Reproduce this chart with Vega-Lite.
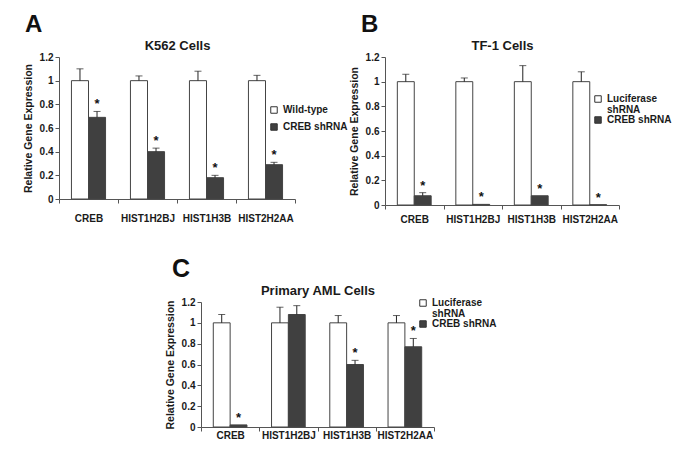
{
  "$schema": "https://vega.github.io/schema/vega-lite/v6.json",
  "autosize": {"type": "none"},
  "padding": {"left": 59, "top": 57, "right": 626, "bottom": 403},
  "datasets": {
    "d": [
      {"panel": "A", "gene": "CREB", "role": "ctrl", "group": "Wild-type", "value": 1.0, "hi": 1.10, "star": ""},
      {"panel": "A", "gene": "CREB", "role": "kd", "group": "CREB shRNA", "value": 0.69, "hi": 0.74, "star": "*"},
      {"panel": "A", "gene": "HIST1H2BJ", "role": "ctrl", "group": "Wild-type", "value": 1.0, "hi": 1.04, "star": ""},
      {"panel": "A", "gene": "HIST1H2BJ", "role": "kd", "group": "CREB shRNA", "value": 0.40, "hi": 0.43, "star": "*"},
      {"panel": "A", "gene": "HIST1H3B", "role": "ctrl", "group": "Wild-type", "value": 1.0, "hi": 1.08, "star": ""},
      {"panel": "A", "gene": "HIST1H3B", "role": "kd", "group": "CREB shRNA", "value": 0.18, "hi": 0.20, "star": "*"},
      {"panel": "A", "gene": "HIST2H2AA", "role": "ctrl", "group": "Wild-type", "value": 1.0, "hi": 1.045, "star": ""},
      {"panel": "A", "gene": "HIST2H2AA", "role": "kd", "group": "CREB shRNA", "value": 0.29, "hi": 0.31, "star": "*"},
      {"panel": "B", "gene": "CREB", "role": "ctrl", "group": "Luciferase shRNA", "value": 1.0, "hi": 1.06, "star": ""},
      {"panel": "B", "gene": "CREB", "role": "kd", "group": "CREB shRNA", "value": 0.075, "hi": 0.10, "star": "*"},
      {"panel": "B", "gene": "HIST1H2BJ", "role": "ctrl", "group": "Luciferase shRNA", "value": 1.0, "hi": 1.03, "star": ""},
      {"panel": "B", "gene": "HIST1H2BJ", "role": "kd", "group": "CREB shRNA", "value": 0.005, "hi": 0.005, "star": "*"},
      {"panel": "B", "gene": "HIST1H3B", "role": "ctrl", "group": "Luciferase shRNA", "value": 1.0, "hi": 1.13, "star": ""},
      {"panel": "B", "gene": "HIST1H3B", "role": "kd", "group": "CREB shRNA", "value": 0.075, "hi": 0.075, "star": "*"},
      {"panel": "B", "gene": "HIST2H2AA", "role": "ctrl", "group": "Luciferase shRNA", "value": 1.0, "hi": 1.08, "star": ""},
      {"panel": "B", "gene": "HIST2H2AA", "role": "kd", "group": "CREB shRNA", "value": 0.002, "hi": 0.002, "star": "*"},
      {"panel": "C", "gene": "CREB", "role": "ctrl", "group": "Luciferase shRNA", "value": 1.0, "hi": 1.08, "star": ""},
      {"panel": "C", "gene": "CREB", "role": "kd", "group": "CREB shRNA", "value": 0.02, "hi": 0.02, "star": "*"},
      {"panel": "C", "gene": "HIST1H2BJ", "role": "ctrl", "group": "Luciferase shRNA", "value": 1.0, "hi": 1.15, "star": ""},
      {"panel": "C", "gene": "HIST1H2BJ", "role": "kd", "group": "CREB shRNA", "value": 1.08, "hi": 1.165, "star": ""},
      {"panel": "C", "gene": "HIST1H3B", "role": "ctrl", "group": "Luciferase shRNA", "value": 1.0, "hi": 1.07, "star": ""},
      {"panel": "C", "gene": "HIST1H3B", "role": "kd", "group": "CREB shRNA", "value": 0.60, "hi": 0.64, "star": "*"},
      {"panel": "C", "gene": "HIST2H2AA", "role": "ctrl", "group": "Luciferase shRNA", "value": 1.0, "hi": 1.07, "star": ""},
      {"panel": "C", "gene": "HIST2H2AA", "role": "kd", "group": "CREB shRNA", "value": 0.77, "hi": 0.85, "star": "*"}
    ]
  },
  "data": {"name": "d"},
  "spacing": 33,
  "vconcat": [
    {
      "spacing": 1,
      "resolve": {"scale": {"fill": "independent", "y": "independent", "x": "independent", "xOffset": "independent"}, "legend": {"fill": "independent"}},
      "hconcat": [
        {
          "width": 236, "height": 142,
          "title": {"text": "A", "anchor": "start", "frame": "bounds", "fontSize": 24, "fontWeight": "bold", "font": "Liberation Sans", "dx": 2, "offset": 2, "color": "#111"},
          "transform": [{"filter": "datum.panel === 'A'"}],
          "encoding": {
            "x": {"field": "gene", "type": "nominal", "sort": ["CREB", "HIST1H2BJ", "HIST1H3B", "HIST2H2AA"], "scale": {"paddingInner": 0, "paddingOuter": 0}, "axis": null},
            "xOffset": {"field": "role", "type": "nominal", "sort": ["ctrl", "kd"], "scale": {"paddingInner": 0, "paddingOuter": 0.73}}
          },
          "layer": [
            {
              "mark": {"type": "bar", "stroke": "#444", "strokeWidth": 1},
              "encoding": {
                "x": {"field": "gene", "type": "nominal", "sort": ["CREB", "HIST1H2BJ", "HIST1H3B", "HIST2H2AA"], "scale": {"paddingInner": 0, "paddingOuter": 0}, "axis": {"orient": "bottom", "title": null, "labelAngle": 0, "tickBand": "extent", "tickSize": 4, "labelPadding": 10}},
                "y": {"field": "value", "type": "quantitative", "scale": {"domain": [0, 1.2]}, "axis": {"values": [0, 0.2, 0.4, 0.6, 0.8, 1, 1.2], "format": "~g", "tickSize": 4, "labelPadding": 2, "title": "Relative Gene Expression", "titleFontSize": 10.5, "titlePadding": 6}},
                "fill": {"field": "group", "type": "nominal", "scale": {"domain": ["Wild-type", "CREB shRNA"], "range": ["#ffffff", "#404040"]}, "legend": {"title": null, "orient": "none", "legendX": 210, "legendY": 48}}
              }
            },
            {
              "transform": [{"filter": "datum.hi > datum.value"}],
              "mark": {"type": "rule", "color": "#222", "strokeWidth": 1},
              "encoding": {"y": {"field": "value", "type": "quantitative", "axis": {"values": [0, 0.2, 0.4, 0.6, 0.8, 1, 1.2], "format": "~g", "tickSize": 4, "labelPadding": 2, "title": "Relative Gene Expression", "titleFontSize": 10.5, "titlePadding": 6}}, "y2": {"field": "hi"}}
            },
            {
              "transform": [{"filter": "datum.hi > datum.value"}],
              "mark": {"type": "tick", "color": "#222", "size": 7, "thickness": 1},
              "encoding": {"y": {"field": "hi", "type": "quantitative", "axis": {"values": [0, 0.2, 0.4, 0.6, 0.8, 1, 1.2], "format": "~g", "tickSize": 4, "labelPadding": 2, "title": "Relative Gene Expression", "titleFontSize": 10.5, "titlePadding": 6}}}
            },
            {
              "mark": {"type": "text", "fontSize": 13, "fontWeight": "bold", "font": "Liberation Sans", "baseline": "alphabetic", "dy": -3, "color": "#111"},
              "encoding": {
                "x": {"field": "gene", "type": "nominal", "sort": ["CREB", "HIST1H2BJ", "HIST1H3B", "HIST2H2AA"], "scale": {"paddingInner": 0, "paddingOuter": 0}, "axis": {"orient": "top", "title": "K562 Cells", "labels": false, "ticks": false, "domain": false, "titleFontSize": 13, "titlePadding": 5}},
                "y": {"field": "hi", "type": "quantitative", "axis": {"values": [0, 0.2, 0.4, 0.6, 0.8, 1, 1.2], "format": "~g", "tickSize": 4, "labelPadding": 2, "title": "Relative Gene Expression", "titleFontSize": 10.5, "titlePadding": 6}},
                "text": {"field": "star"}
              }
            }
          ],
          "resolve": {"axis": {"x": "independent"}}
        },
        {
          "width": 234, "height": 148,
          "title": {"text": "B", "anchor": "start", "frame": "bounds", "fontSize": 24, "fontWeight": "bold", "font": "Liberation Sans", "dx": 12, "offset": 2, "color": "#111"},
          "transform": [{"filter": "datum.panel === 'B'"}],
          "encoding": {
            "x": {"field": "gene", "type": "nominal", "sort": ["CREB", "HIST1H2BJ", "HIST1H3B", "HIST2H2AA"], "scale": {"paddingInner": 0, "paddingOuter": 0}, "axis": null},
            "xOffset": {"field": "role", "type": "nominal", "sort": ["ctrl", "kd"], "scale": {"paddingInner": 0, "paddingOuter": 0.73}}
          },
          "layer": [
            {
              "mark": {"type": "bar", "stroke": "#444", "strokeWidth": 1},
              "encoding": {
                "x": {"field": "gene", "type": "nominal", "sort": ["CREB", "HIST1H2BJ", "HIST1H3B", "HIST2H2AA"], "scale": {"paddingInner": 0, "paddingOuter": 0}, "axis": {"orient": "bottom", "title": null, "labelAngle": 0, "tickBand": "extent", "tickSize": 4, "labelPadding": 5}},
                "y": {"field": "value", "type": "quantitative", "scale": {"domain": [0, 1.2]}, "axis": {"values": [0, 0.2, 0.4, 0.6, 0.8, 1, 1.2], "format": "~g", "tickSize": 4, "labelPadding": 2, "title": "Relative Gene Expression", "titleFontSize": 10.5, "titlePadding": 6}},
                "fill": {"field": "group", "type": "nominal", "scale": {"domain": ["Luciferase shRNA", "CREB shRNA"], "range": ["#ffffff", "#404040"]}, "legend": {"title": null, "orient": "none", "legendX": 208, "legendY": 37, "rowPadding": -1, "labelExpr": "datum.label == 'Luciferase shRNA' ? ['Luciferase', 'shRNA'] : datum.label", "encode": {"labels": {"update": {"lineHeight": {"value": 11}}}}}}
              }
            },
            {
              "transform": [{"filter": "datum.hi > datum.value"}],
              "mark": {"type": "rule", "color": "#222", "strokeWidth": 1},
              "encoding": {"y": {"field": "value", "type": "quantitative", "axis": {"values": [0, 0.2, 0.4, 0.6, 0.8, 1, 1.2], "format": "~g", "tickSize": 4, "labelPadding": 2, "title": "Relative Gene Expression", "titleFontSize": 10.5, "titlePadding": 6}}, "y2": {"field": "hi"}}
            },
            {
              "transform": [{"filter": "datum.hi > datum.value"}],
              "mark": {"type": "tick", "color": "#222", "size": 7, "thickness": 1},
              "encoding": {"y": {"field": "hi", "type": "quantitative", "axis": {"values": [0, 0.2, 0.4, 0.6, 0.8, 1, 1.2], "format": "~g", "tickSize": 4, "labelPadding": 2, "title": "Relative Gene Expression", "titleFontSize": 10.5, "titlePadding": 6}}}
            },
            {
              "mark": {"type": "text", "fontSize": 13, "fontWeight": "bold", "font": "Liberation Sans", "baseline": "alphabetic", "dy": -3, "color": "#111"},
              "encoding": {
                "x": {"field": "gene", "type": "nominal", "sort": ["CREB", "HIST1H2BJ", "HIST1H3B", "HIST2H2AA"], "scale": {"paddingInner": 0, "paddingOuter": 0}, "axis": {"orient": "top", "title": "TF-1 Cells", "labels": false, "ticks": false, "domain": false, "titleFontSize": 13, "titlePadding": 5}},
                "y": {"field": "hi", "type": "quantitative", "axis": {"values": [0, 0.2, 0.4, 0.6, 0.8, 1, 1.2], "format": "~g", "tickSize": 4, "labelPadding": 2, "title": "Relative Gene Expression", "titleFontSize": 10.5, "titlePadding": 6}},
                "text": {"field": "star"}
              }
            }
          ],
          "resolve": {"axis": {"x": "independent"}}
        }
      ]
    },
    {
      "spacing": 97,
      "resolve": {"scale": {"fill": "independent", "y": "independent", "x": "independent", "xOffset": "independent"}, "legend": {"fill": "independent"}},
      "hconcat": [
        {
          "width": 9, "height": 125,
          "data": {"values": []},
          "mark": {"type": "point", "opacity": 0}
        },
        {
          "width": 233, "height": 125,
          "title": {"text": "C", "anchor": "start", "frame": "bounds", "fontSize": 25, "fontWeight": "bold", "font": "Liberation Sans", "dx": 7, "offset": 2, "color": "#111"},
          "transform": [{"filter": "datum.panel === 'C'"}],
          "encoding": {
            "x": {"field": "gene", "type": "nominal", "sort": ["CREB", "HIST1H2BJ", "HIST1H3B", "HIST2H2AA"], "scale": {"paddingInner": 0, "paddingOuter": 0}, "axis": null},
            "xOffset": {"field": "role", "type": "nominal", "sort": ["ctrl", "kd"], "scale": {"paddingInner": 0, "paddingOuter": 0.73}}
          },
          "layer": [
            {
              "mark": {"type": "bar", "stroke": "#444", "strokeWidth": 1},
              "encoding": {
                "x": {"field": "gene", "type": "nominal", "sort": ["CREB", "HIST1H2BJ", "HIST1H3B", "HIST2H2AA"], "scale": {"paddingInner": 0, "paddingOuter": 0}, "axis": {"orient": "bottom", "title": null, "labelAngle": 0, "tickBand": "extent", "tickSize": 4, "labelPadding": -1}},
                "y": {"field": "value", "type": "quantitative", "scale": {"domain": [0, 1.2]}, "axis": {"values": [0, 0.2, 0.4, 0.6, 0.8, 1, 1.2], "format": "~g", "tickSize": 4, "labelPadding": 2, "title": "Relative Gene Expression", "titleFontSize": 10.5, "titlePadding": 6}},
                "fill": {"field": "group", "type": "nominal", "scale": {"domain": ["Luciferase shRNA", "CREB shRNA"], "range": ["#ffffff", "#404040"]}, "legend": {"title": null, "orient": "none", "legendX": 217, "legendY": -4, "rowPadding": -1, "labelExpr": "datum.label == 'Luciferase shRNA' ? ['Luciferase', 'shRNA'] : datum.label", "encode": {"labels": {"update": {"lineHeight": {"value": 11}}}}}}
              }
            },
            {
              "transform": [{"filter": "datum.hi > datum.value"}],
              "mark": {"type": "rule", "color": "#222", "strokeWidth": 1},
              "encoding": {"y": {"field": "value", "type": "quantitative", "axis": {"values": [0, 0.2, 0.4, 0.6, 0.8, 1, 1.2], "format": "~g", "tickSize": 4, "labelPadding": 2, "title": "Relative Gene Expression", "titleFontSize": 10.5, "titlePadding": 6}}, "y2": {"field": "hi"}}
            },
            {
              "transform": [{"filter": "datum.hi > datum.value"}],
              "mark": {"type": "tick", "color": "#222", "size": 7, "thickness": 1},
              "encoding": {"y": {"field": "hi", "type": "quantitative", "axis": {"values": [0, 0.2, 0.4, 0.6, 0.8, 1, 1.2], "format": "~g", "tickSize": 4, "labelPadding": 2, "title": "Relative Gene Expression", "titleFontSize": 10.5, "titlePadding": 6}}}
            },
            {
              "mark": {"type": "text", "fontSize": 13, "fontWeight": "bold", "font": "Liberation Sans", "baseline": "alphabetic", "dy": -3, "color": "#111"},
              "encoding": {
                "x": {"field": "gene", "type": "nominal", "sort": ["CREB", "HIST1H2BJ", "HIST1H3B", "HIST2H2AA"], "scale": {"paddingInner": 0, "paddingOuter": 0}, "axis": {"orient": "top", "title": "Primary AML Cells", "labels": false, "ticks": false, "domain": false, "titleFontSize": 13, "titlePadding": 5}},
                "y": {"field": "hi", "type": "quantitative", "axis": {"values": [0, 0.2, 0.4, 0.6, 0.8, 1, 1.2], "format": "~g", "tickSize": 4, "labelPadding": 2, "title": "Relative Gene Expression", "titleFontSize": 10.5, "titlePadding": 6}},
                "text": {"field": "star"}
              }
            }
          ],
          "resolve": {"axis": {"x": "independent"}}
        }
      ]
    }
  ],
  "resolve": {"scale": {"fill": "independent", "y": "independent", "x": "independent", "xOffset": "independent"}, "legend": {"fill": "independent"}},
  "config": {
    "view": {"stroke": null},
    "font": "Liberation Sans",
    "axis": {"labelFont": "Liberation Sans", "labelFontWeight": "bold", "labelFontSize": 10, "labelColor": "#1a1a1a", "titleFont": "Liberation Sans", "titleFontWeight": "bold", "titleColor": "#1a1a1a", "domainColor": "#555", "tickColor": "#555", "grid": false},
    "legend": {"labelFont": "Liberation Sans", "labelFontWeight": "bold", "labelFontSize": 10, "labelColor": "#1a1a1a", "labelOffset": 4, "symbolType": "square", "symbolSize": 42, "symbolStrokeColor": "#333", "symbolStrokeWidth": 1, "padding": 0, "rowPadding": 5}
  }
}
